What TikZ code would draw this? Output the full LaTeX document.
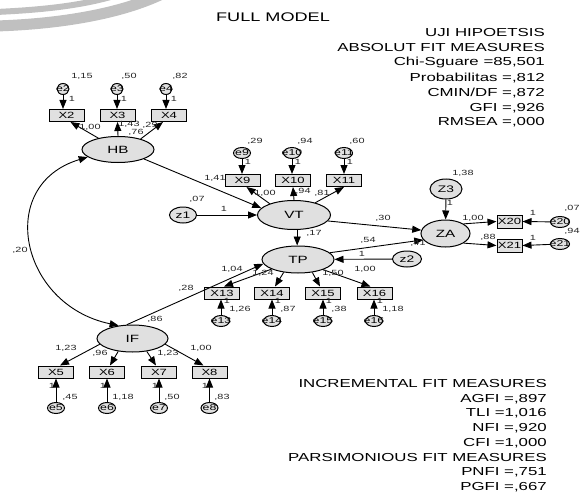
\documentclass[tikz,border=0pt]{standalone}
\usepackage{fontspec}
\setmainfont[FakeStretch=1.45]{Liberation Sans}
\usetikzlibrary{shapes.geometric,arrows.meta}
\definecolor{nodegray}{RGB}{224,224,224}
\definecolor{swoosh}{RGB}{192,192,192}
\begin{document}
\begin{tikzpicture}[x=1pt,y=-1pt,
 lat/.style={ellipse,draw=black,line width=1pt,fill=nodegray,minimum width=72pt,minimum height=26pt,inner sep=0pt,font=\fontsize{10.5}{10.5}\selectfont},
 obs/.style={rectangle,draw=black,line width=1pt,fill=nodegray,minimum width=35pt,minimum height=12pt,inner sep=0pt,font=\fontsize{9}{9}\selectfont},
 err/.style={ellipse,draw=black,line width=1pt,fill=nodegray,minimum width=17pt,minimum height=11pt,inner sep=0pt},
 errsmall/.style={err,minimum width=12pt,minimum height=11pt},
 errtxt/.style={font=\fontsize{8.5}{8.5}\selectfont,inner sep=0pt},
 distb/.style={ellipse,draw=black,line width=1pt,fill=nodegray,minimum width=27pt,minimum height=16pt,inner sep=0pt,font=\fontsize{9.5}{9.5}\selectfont},
 coef/.style={font=\fontsize{7.5}{7.5}\selectfont,inner sep=0pt,text=black!85},
 arr/.style={line width=0.9pt,-{Triangle[length=9pt,width=7pt]}},
 fitline/.style={font=\fontsize{11.6}{11.6}\selectfont,inner sep=0pt,anchor=east}
]
\useasboundingbox (0,0) rectangle (583,492);
\begin{scope}
\clip (0,0) rectangle (583,492);
\draw[swoosh,line width=6pt] (-4,12) .. controls (40,10) and (80,6) .. (114,-4);
\draw[swoosh,line width=11pt] (-4,26) .. controls (60,24) and (120,14) .. (162,-6);
\end{scope}

% title and fit measures
\node[font=\fontsize{12.5}{12.5}\selectfont,inner sep=0pt] (title) at (273,17) {FULL MODEL};
\node[fitline] (a1) at (545,33) {UJI HIPOETSIS};
\node[fitline] (a2) at (545,48) {ABSOLUT FIT MEASURES};
\node[fitline] (a3) at (545,63) {Chi-Sguare =85,501};
\node[fitline] (a4) at (545,78) {Probabilitas =,812};
\node[fitline] (a5) at (545,93) {CMIN/DF =,872};
\node[fitline] (a6) at (545,108) {GFI =,926};
\node[fitline] (a7) at (545,122) {RMSEA =,000};
\node[fitline] (b1) at (547,384) {INCREMENTAL FIT MEASURES};
\node[fitline] (b2) at (547,399) {AGFI =,897};
\node[fitline] (b3) at (547,413) {TLI =1,016};
\node[fitline] (b4) at (547,428) {NFI =,920};
\node[fitline] (b5) at (547,443) {CFI =1,000};
\node[fitline] (b6) at (547,458) {PARSIMONIOUS FIT MEASURES};
\node[fitline] (b7) at (547,472) {PNFI =,751};
\node[fitline] (b8) at (547,487) {PGFI =,667};

% latent variables
\node[lat] (HB) at (118,149.5) {HB};
\node[lat,minimum width=73pt,minimum height=29pt] (VT) at (294,215) {VT};
\node[lat,minimum height=27pt] (TP) at (298,259.5) {TP};
\node[lat,minimum width=71pt,minimum height=27pt] (IF) at (132.5,338.5) {IF};
\node[lat,minimum width=49pt,minimum height=27pt] (ZA) at (445.5,233.5) {ZA};

% disturbances
\node[distb] (z1) at (183,215) {z1};
\node[distb,minimum width=29pt] (z2) at (407,259) {z2};
\node[distb,minimum width=32pt,minimum height=20pt] (Z3) at (446,189) {Z3};

% observed
\node[obs] (X2) at (66.5,115.5) {X2};
\node[obs] (X3) at (117.5,115.5) {X3};
\node[obs] (X4) at (169,115.5) {X4};
\node[obs] (X9) at (242.5,180.5) {X9};
\node[obs] (X10) at (293,180.5) {X10};
\node[obs] (X11) at (344,180.5) {X11};
\node[obs] (X13) at (222,293) {X13};
\node[obs] (X14) at (272,293) {X14};
\node[obs] (X15) at (323,293) {X15};
\node[obs] (X16) at (374.5,293) {X16};
\node[obs] (X5) at (56,372) {X5};
\node[obs] (X6) at (107,372) {X6};
\node[obs] (X7) at (159,372) {X7};
\node[obs] (X8) at (209.5,372) {X8};
\node[obs,minimum width=25pt,minimum height=13pt] (X20) at (509.5,221.5) {X20};
\node[obs,minimum width=25pt,minimum height=13pt] (X21) at (509.5,245.5) {X21};

% errors
\node[errsmall,label={[errtxt]center:e2}] (e2) at (63,89) {};
\node[errsmall,label={[errtxt]center:e3}] (e3) at (117,89) {};
\node[errsmall,label={[errtxt]center:e4}] (e4) at (166,89) {};
\node[err,label={[errtxt]center:e9}] (e9) at (242,153) {};
\node[err,label={[errtxt]center:e10}] (e10) at (292,153) {};
\node[err,label={[errtxt]center:e11}] (e11) at (344,153) {};
\node[err,label={[errtxt]center:e13}] (e13) at (221,321) {};
\node[err,label={[errtxt]center:e14}] (e14) at (272,321) {};
\node[err,label={[errtxt]center:e15}] (e15) at (323,321) {};
\node[err,label={[errtxt]center:e16}] (e16) at (374,321) {};
\node[err,label={[errtxt]center:e5}] (e5) at (56,408) {};
\node[err,label={[errtxt]center:e6}] (e6) at (107,408) {};
\node[err,label={[errtxt]center:e7}] (e7) at (159,408) {};
\node[err,label={[errtxt]center:e8}] (e8) at (209.5,408) {};
\node[err,minimum width=19pt,label={[errtxt]center:e20}] (e20) at (560,222) {};
\node[err,minimum width=19pt,label={[errtxt]center:e21}] (e21) at (560,244) {};

% error arrows
\foreach \e/\x in {e2/X2,e3/X3,e4/X4,e9/X9,e10/X10,e11/X11}
  \draw[arr] (\e) -- (\e |- \x.north);
\foreach \e/\x in {e13/X13,e14/X14,e15/X15,e16/X16,e5/X5,e6/X6,e7/X7,e8/X8}
  \draw[arr] (\e) -- (\e |- \x.south);
\draw[arr] (e20) -- (X20.east);
\draw[arr] (e21) -- (X21.east);

% loadings
\draw[arr] (HB.150) -- ([xshift=4pt]X2.south);
\draw[arr] (HB.north) -- (X3.south);
\draw[arr] (HB.25) -- ([xshift=-6pt]X4.south);
\draw[arr] (VT.155) -- ([xshift=4pt]X9.south);
\draw[arr] (VT.north) -- (X10.south);
\draw[arr] (VT.30) -- (X11.south);
\draw[arr] (TP.200) -- ([xshift=2pt]X13.north);
\draw[arr] (TP.222) -- ([xshift=3pt]X14.north);
\draw[arr] (TP.318) -- ([xshift=-3pt]X15.north);
\draw[arr] (TP.338) -- ([xshift=-4pt]X16.north);
\draw[arr] (IF.190) -- ([xshift=4pt]X5.north);
\draw[arr] (IF.222) -- ([xshift=3pt]X6.north);
\draw[arr] (IF.318) -- ([xshift=-3pt]X7.north);
\draw[arr] (IF.350) -- ([xshift=-6pt]X8.north);
\draw[arr] (ZA.28) -- (X20.west);
\draw[arr] (ZA.332) -- (X21.west);

% structural paths
\draw[arr] (HB.340) -- (VT.168);
\draw[arr] (z1) -- (VT);
\draw[arr] (VT.282) -- (VT.282 |- TP.north);
\draw[arr] (VT.350) -- (ZA.172);
\draw[arr] (TP.12) -- (ZA.196);
\draw[arr] (z2) -- (TP);
\draw[arr] (Z3) -- (ZA);
\draw[arr] (IF.112) -- (TP.187);
\draw[line width=0.9pt,{Triangle[length=9pt,width=7pt]}-{Triangle[length=9pt,width=7pt]}]
  (HB.194) .. controls (-5,185) and (20,305) .. (IF.137);

% coefficients
\node[coef] (c1) at (82,76) {1,15};
\node[coef] (c2) at (129,76) {,50};
\node[coef] (c3) at (180,76) {,82};
\node[coef] (c4) at (72,99) {1};
\node[coef] (c5) at (124,99) {1};
\node[coef] (c6) at (174,99) {1};
\node[coef] (c7) at (90,127) {1,00};
\node[coef] (c8) at (129,124) {1,43};
\node[coef] (c9) at (136,132) {,76};
\node[coef] (c10) at (150,125) {,29};
\node[coef] (c11) at (255,141) {,29};
\node[coef] (c12) at (305,141) {,94};
\node[coef] (c13) at (357,141) {,60};
\node[coef] (c14) at (248,162) {1};
\node[coef] (c15) at (298,162) {1};
\node[coef] (c16) at (350,162) {1};
\node[coef] (c17) at (215,178) {1,41};
\node[coef] (c18) at (265,193) {1,00};
\node[coef] (c19) at (303,191) {,94};
\node[coef] (c20) at (322,193) {,81};
\node[coef] (c21) at (197,199) {,07};
\node[coef] (c22) at (224,209) {1};
\node[coef] (c23) at (383,218) {,30};
\node[coef] (c24) at (314,233) {,17};
\node[coef] (c25) at (368,240) {,54};
\node[coef] (c26) at (362,254) {1};
\node[coef] (c27) at (418,243) {,41};
\node[coef] (c28) at (463,173) {1,38};
\node[coef] (c29) at (450,203) {1};
\node[coef] (c30) at (473,218) {1,00};
\node[coef] (c31) at (488,237) {,88};
\node[coef] (c32) at (533,213) {1};
\node[coef] (c33) at (533,238) {1};
\node[coef] (c34) at (572,208) {,07};
\node[coef] (c35) at (572,231) {,94};
\node[coef] (c36) at (232,269) {1,04};
\node[coef] (c37) at (263,273) {1,24};
\node[coef] (c38) at (333,273) {1,50};
\node[coef] (c39) at (365,269) {1,00};
\node[coef] (c40) at (186,288) {,28};
\node[coef] (c41) at (227,301) {1};
\node[coef] (c42) at (278,301) {1};
\node[coef] (c43) at (329,301) {1};
\node[coef] (c44) at (380,301) {1};
\node[coef] (c45) at (240,309) {1,26};
\node[coef] (c46) at (288,309) {,87};
\node[coef] (c47) at (339,309) {,38};
\node[coef] (c48) at (393,309) {1,18};
\node[coef] (c49) at (155,319) {,86};
\node[coef] (c50) at (66,348) {1,23};
\node[coef] (c51) at (100,353) {,96};
\node[coef] (c52) at (168,353) {1,23};
\node[coef] (c53) at (201,348) {1,00};
\node[coef] (c54) at (52,386) {1};
\node[coef] (c55) at (103,386) {1};
\node[coef] (c56) at (155,386) {1};
\node[coef] (c57) at (205,386) {1};
\node[coef] (c58) at (70,397) {,45};
\node[coef] (c59) at (123,397) {1,18};
\node[coef] (c60) at (172,397) {,50};
\node[coef] (c61) at (222,397) {,83};
\node[coef] (c62) at (20,250) {,20};
\end{tikzpicture}
\end{document}
